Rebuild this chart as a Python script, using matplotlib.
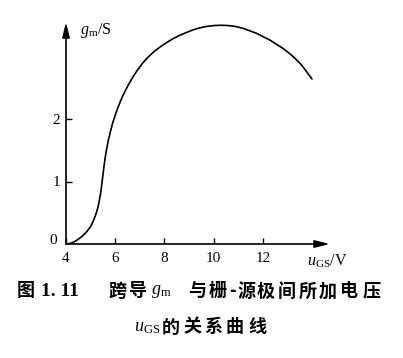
import matplotlib
matplotlib.use("Agg")
import matplotlib.pyplot as plt

plt.rcParams['mathtext.fontset'] = 'custom'
plt.rcParams['mathtext.rm'] = 'Liberation Serif'
plt.rcParams['mathtext.it'] = 'Liberation Serif:italic'
plt.rcParams['font.family'] = ['Liberation Serif']

# data
u_gs = [4.00, 4.10, 4.25, 4.40, 4.58, 4.70, 4.85, 5.00, 5.10, 5.20, 5.28, 5.35,
        5.41, 5.46, 5.51, 5.56, 5.62, 5.70, 5.80, 5.90, 6.00, 6.11, 6.22, 6.32,
        6.50, 6.70, 6.90, 7.13, 7.35, 7.60, 7.85, 8.10, 8.35, 8.60, 8.90, 9.16,
        9.40, 9.70, 10.00, 10.30, 10.60, 10.90, 11.20, 11.48, 11.75, 12.00, 12.30,
        12.58, 12.80, 13.00, 13.20, 13.39, 13.55, 13.70, 13.85, 14.00]
g_m = [0.000, 0.005, 0.02, 0.05, 0.10, 0.14, 0.20, 0.28, 0.36, 0.46, 0.56, 0.68,
       0.82, 0.97, 1.13, 1.29, 1.45, 1.62, 1.79, 1.94, 2.06, 2.18, 2.29, 2.38,
       2.52, 2.66, 2.78, 2.90, 2.995, 3.085, 3.16, 3.225, 3.285, 3.335, 3.385, 3.425,
       3.455, 3.48, 3.495, 3.50, 3.495, 3.48, 3.45, 3.41, 3.37, 3.32, 3.26,
       3.19, 3.135, 3.075, 3.01, 2.94, 2.875, 2.80, 2.72, 2.64]
x_ticks = [4, 6, 8, 10, 12]
y_ticks = [1, 2]

W, H = 403, 358
fig = plt.figure(figsize=(W / 100, H / 100), dpi=100)
ax = fig.add_axes([66 / W, 1 - 244 / H, (330 - 66) / W, (244 - 22) / H])
ax.set_xlim(4, 4 + (330 - 66) / 24.6)
ax.set_ylim(0, (244 - 22) / 62.5)

ax.plot(u_gs, g_m, color='black', lw=1.2, solid_capstyle='round',
        solid_joinstyle='round')

for s in ax.spines.values():
    s.set_visible(False)
ax.annotate('', xy=(1, 0), xytext=(0, 0), xycoords='axes fraction',
            arrowprops=dict(arrowstyle='-|>,head_length=0.9,head_width=0.22',
                            color='black', lw=1.2, shrinkA=0, shrinkB=0, mutation_scale=10))
ax.annotate('', xy=(0, 1), xytext=(0, 0), xycoords='axes fraction',
            arrowprops=dict(arrowstyle='-|>,head_length=0.9,head_width=0.22',
                            color='black', lw=1.2, shrinkA=0, shrinkB=0, mutation_scale=10))

ax.set_xticks(x_ticks)
ax.set_xticklabels([str(t) for t in x_ticks])
ax.set_yticks(y_ticks)
ax.set_yticklabels([str(t) for t in y_ticks])
ax.tick_params(axis='x', direction='in', length=4, width=1.0, pad=6, labelsize=11)
ax.tick_params(axis='y', direction='in', length=4, width=1.0, pad=4, labelsize=11)
ax.text(-0.035, -0.012, '0', transform=ax.transAxes, ha='right', va='bottom', fontsize=11)

def px(x, y):
    return x / W, 1 - y / H

fig.text(*px(80, 30), r'$g_{\rm m}$/S', ha='left', va='center', fontsize=11.5)
fig.text(*px(307, 261), r'$u_{\rm GS}$/V', ha='left', va='center', fontsize=11.5)

cjk = ['Noto Sans CJK SC', 'DejaVu Sans']

def put(x, y, s, fam=cjk, size=13, weight='bold', style='normal'):
    fig.text(*px(x, y), s, ha='center', va='center', fontsize=size,
             family=fam, weight=weight, style=style)

y1 = 291
put(26, y1, '图')
put(60, y1 + 1, '1. 11', fam=['Liberation Serif'], size=14)
for ch, cx in zip('跨导', [117, 138]):
    put(cx, y1, ch)
fig.text(*px(161, y1 + 1), r'$g_{\rm m}$', ha='center', va='center', fontsize=13)
for ch, cx in zip('与栅-源极间所加电压', [197, 218, 232, 246, 266, 287, 308, 328, 349, 372]):
    put(cx, y1, ch)

y2 = 327
fig.text(*px(147, y2 + 1), r'$u_{\rm GS}$', ha='center', va='center', fontsize=13)
for ch, cx in zip('的关系曲线', [171, 192, 213, 234, 257]):
    put(cx, y2, ch)

fig.savefig('out.png', dpi=100)
